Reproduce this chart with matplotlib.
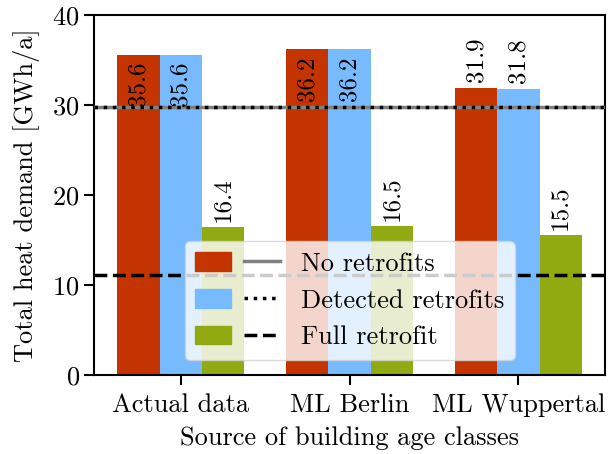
import matplotlib
matplotlib.use("Agg")
import matplotlib.pyplot as plt
from matplotlib.legend_handler import HandlerTuple
from matplotlib.patches import Patch
from matplotlib.lines import Line2D
import numpy as np

plt.rcParams['font.family'] = 'serif'
plt.rcParams['font.serif'] = ['cmr10', 'DejaVu Serif']
plt.rcParams['axes.formatter.use_mathtext'] = True
plt.rcParams['font.size'] = 19

sources = ["Actual data", "ML Berlin", "ML Wuppertal"]
scenarios = ["No retrofits", "Detected retrofits", "Full retrofit"]
no_retrofits = [35.6, 36.2, 31.9]
detected_retrofits = [35.6, 36.2, 31.8]
full_retrofit = [16.4, 16.5, 15.5]
# Referenzlinien
ref_no = 29.8
ref_detected = 29.8
ref_full = 11.1

farben = ["#c43400", "#78bafe", "#91aa12"]
linien = [("-", "gray"), (":", "black"), ("--", "black")]

fig = plt.figure(figsize=(6.08, 4.54), dpi=100)
ax = fig.add_axes([0.155, 0.174, 0.84, 0.793])

x = np.arange(len(sources))
w = 0.25
serien = [no_retrofits, detected_retrofits, full_retrofit]
for i, werte in enumerate(serien):
    bars = ax.bar(x + (i - 1) * w, werte, w, color=farben[i], zorder=2)
    for b, v in zip(bars, werte):
        cx = b.get_x() + b.get_width() / 2
        if v > 33:
            ax.annotate(f"{v:.1f}", (cx, v), xytext=(0, -5), textcoords="offset points",
                        rotation=90, ha="center", va="top", fontsize=18, zorder=4)
        else:
            ax.annotate(f"{v:.1f}", (cx, v), xytext=(0, 4), textcoords="offset points",
                        rotation=90, ha="center", va="bottom", fontsize=18, zorder=4)

ax.axhline(ref_no, ls="-", color="gray", lw=2.5, zorder=3)
ax.axhline(ref_detected, ls=":", color="black", lw=2.5, zorder=3)
ax.axhline(ref_full, ls="--", color="black", lw=2.5, zorder=3)

ax.set_ylim(0, 40)
ax.set_yticks([0, 10, 20, 30, 40])
ax.set_xticks(x)
ax.set_xticklabels(sources)
ax.set_xlabel("Source of building age classes", labelpad=7)
ax.set_ylabel("Total heat demand [GWh/a]", labelpad=9)
for s in ax.spines.values():
    s.set_linewidth(1.5)
ax.tick_params(width=1.5, length=7)
ax.tick_params(axis="x", pad=6)

handles = [(Patch(color=farben[i]), Line2D([], [], ls=linien[i][0], color=linien[i][1], lw=2.5))
           for i in range(3)]
leg = ax.legend(handles, scenarios, handler_map={tuple: HandlerTuple(ndivide=None, pad=0.5)},
                loc="lower center", bbox_to_anchor=(0.5, 0.005), handlelength=3.2,
                framealpha=0.8, edgecolor="lightgray", fontsize=19, labelspacing=0.5)
leg.set_zorder(5)

fig.savefig("out.png", dpi=100)
